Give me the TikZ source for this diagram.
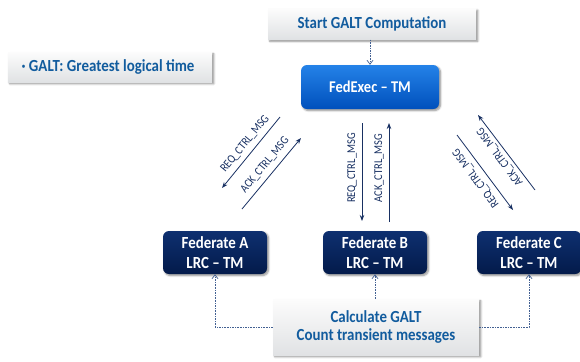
\documentclass[tikz,border=0pt]{standalone}
\usepackage{fontspec}
\setmainfont{Carlito}[FakeStretch=0.88]
\usetikzlibrary{shadows.blur,arrows.meta}

\definecolor{lighttext}{RGB}{18,92,158}
\definecolor{execTop}{RGB}{36,130,232}
\definecolor{execBot}{RGB}{0,80,188}
\definecolor{fedTop}{RGB}{14,48,112}
\definecolor{fedBot}{RGB}{3,26,74}
\definecolor{msgline}{RGB}{24,48,98}
\definecolor{dashline}{RGB}{66,96,146}
\definecolor{paleTop}{RGB}{252,252,252}
\definecolor{paleBot}{RGB}{224,226,228}

\tikzset{
  palebox/.style={rectangle, top color=paleTop, bottom color=paleBot,
    text=lighttext, align=center, inner sep=0pt,
    blur shadow={shadow xshift=1.8bp, shadow yshift=-1.8bp, shadow blur steps=6, shadow opacity=45},
    font=\bfseries\fontsize{17}{19}\selectfont},
  execbox/.style={rectangle, rounded corners=6bp, top color=execTop, bottom color=execBot,
    text=white, align=center, inner sep=0pt,
    blur shadow={shadow xshift=1.5bp, shadow yshift=-1.5bp, shadow blur steps=6, shadow opacity=45},
    font=\bfseries\fontsize{16.5}{20}\selectfont},
  fedbox/.style={rectangle, rounded corners=6bp, top color=fedTop, bottom color=fedBot,
    text=white, align=center, inner sep=0pt,
    minimum width=104bp, minimum height=43bp,
    blur shadow={shadow xshift=1.5bp, shadow yshift=-1.5bp, shadow blur steps=6, shadow opacity=45},
    font=\bfseries\fontsize{17}{20}\selectfont},
  msgarrow/.style={draw=msgline, line width=0.8bp, -{Stealth[length=6bp,width=4.5bp]}},
  msglabel/.style={text=msgline, inner sep=0pt, font=\fontsize{12}{13}\selectfont},
  trigger/.style={draw=dashline, line width=0.8bp, dash pattern=on 1.6bp off 1bp,
    -{Straight Barb[open,length=4bp,width=6bp,line width=0.7bp]}},
}

\begin{document}
\begin{tikzpicture}[x=1bp,y=-1bp]
\useasboundingbox (0,0) rectangle (580,361);

% boxes
\node[palebox, minimum width=208bp, minimum height=31bp] (start) at (372,24) {Start GALT Computation};
\node[palebox, minimum width=204bp, minimum height=30bp] (galt) at (110,67) {\hspace*{-4bp}· GALT: Greatest logical time};
\node[execbox, minimum width=138bp, minimum height=44bp] (exec) at (370,87) {FedExec – TM};
\node[fedbox] (fa) at (215,252.5) {Federate A\\LRC – TM};
\node[fedbox] (fb) at (375,252.5) {Federate B\\LRC – TM};
\node[fedbox] (fc) at (529,252.5) {Federate C\\LRC – TM};
\node[palebox, minimum width=206bp, minimum height=56bp] (calc) at (376,327) {Calculate GALT\\Count transient messages};

% dashed triggers
\draw[trigger] (start.south -| exec.north) -- (exec.north);
\draw[trigger] (calc.west) -| (fa.south);
\draw[trigger] (calc.north -| fb.south) -- (fb.south);
\draw[trigger] (calc.east) -| (fc.south);

% message arrows: Federate A
\coordinate (aReqS) at (280,117);
\coordinate (aReqE) at (222,188);
\coordinate (aAckS) at (242,209);
\coordinate (aAckE) at (301,138);
\draw[msgarrow] (aReqS) -- (aReqE);
\draw[msgarrow] (aAckS) -- (aAckE);
\node[msglabel, rotate=50.6] (aReqL) at (245,144) {REQ\_CTRL\_MSG};
\node[msglabel, rotate=50.6] (aAckL) at (265,165) {ACK\_CTRL\_MSG};

% message arrows: Federate B
\coordinate (bReqS) at (362,123);
\coordinate (bReqE) at (362,221);
\coordinate (bAckS) at (389,222);
\coordinate (bAckE) at (389,123);
\draw[msgarrow] (bReqS) -- (bReqE);
\draw[msgarrow] (bAckS) -- (bAckE);
\node[msglabel, rotate=90] (bReqL) at (352,168) {REQ\_CTRL\_MSG};
\node[msglabel, rotate=90] (bAckL) at (379,168) {ACK\_CTRL\_MSG};

% message arrows: Federate C
\coordinate (cReqS) at (457,135);
\coordinate (cReqE) at (513,210);
\coordinate (cAckS) at (535,190);
\coordinate (cAckE) at (478,115);
\draw[msgarrow] (cReqS) -- (cReqE);
\draw[msgarrow] (cAckS) -- (cAckE);
\node[msglabel, rotate=126.6] (cAckL) at (500,157) {ACK\_CTRL\_MSG};
\node[msglabel, rotate=126.6] (cReqL) at (476,178) {REQ\_CTRL\_MSG};
\end{tikzpicture}
\end{document}
